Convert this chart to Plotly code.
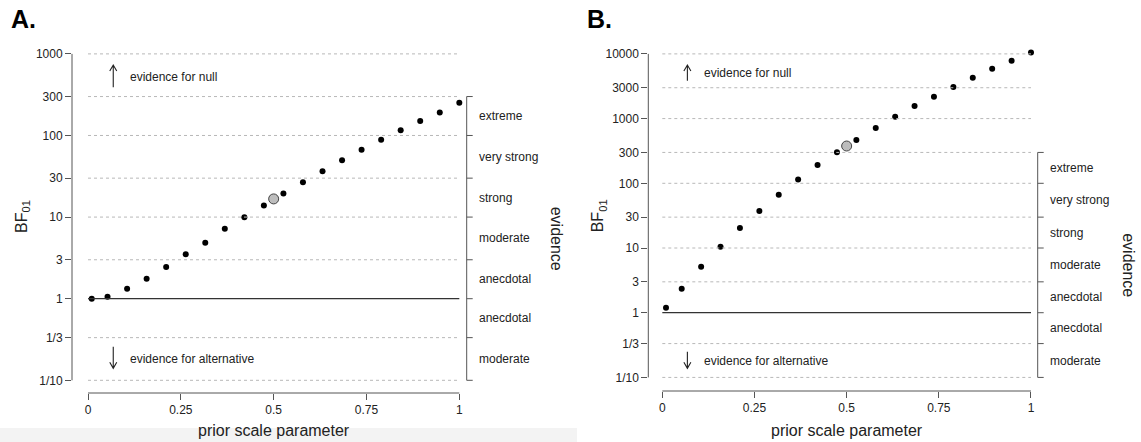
import math
import plotly.graph_objects as go

# ---------------- data ----------------
prior_scale = [0.01, 0.0526, 0.1053, 0.1579, 0.2105, 0.2632, 0.3158, 0.3684, 0.4211, 0.4737,
               0.5263, 0.5789, 0.6316, 0.6842, 0.7368, 0.7895, 0.8421, 0.8947, 0.9474, 1.0]
bf_a = [1.0, 1.06, 1.32, 1.76, 2.45, 3.5, 4.86, 7.2, 9.95, 13.9,
        19.4, 26.7, 36.5, 49.8, 66.7, 88.5, 116, 151, 191, 252]
bf_b = [1.19, 2.35, 5.14, 10.5, 20.4, 37.3, 66.7, 114, 192, 301,
        467, 716, 1071, 1567, 2180, 3076, 4286, 5900, 7850, 10470]
selected_x = 0.5
selected_bf_a = 16.7
selected_bf_b = 377

ticks_a = [1000, 300, 100, 30, 10, 3, 1, 1/3, 1/10]
ticklabels_a = ["1000", "300", "100", "30", "10", "3", "1", "1/3", "1/10"]
ticks_b = [10000, 3000, 1000, 300, 100, 30, 10, 3, 1, 1/3, 1/10]
ticklabels_b = ["10000", "3000", "1000", "300", "100", "30", "10", "3", "1", "1/3", "1/10"]
x_ticks = [0, 0.25, 0.5, 0.75, 1]
x_ticklabels = ["0", "0.25", "0.5", "0.75", "1"]

evidence_bounds = [300, 100, 30, 10, 3, 1, 1/3, 1/10]
evidence_labels = ["extreme", "very strong", "strong", "moderate", "anecdotal", "anecdotal", "moderate"]

# ---------------- layout constants ----------------
W, H = 1141, 442
FONT = "Liberation Sans, Arial, Helvetica, sans-serif"
AXC = "#555555"
TXT = "#222222"
GRID = "#b8b8b8"

panels = {
    "A": dict(xdom=[72 / W, 466.7 / W], ydom=[1 - 393 / H, 1 - 48 / H],
              xr=[-0.0431, 1.0199], yr=[-1.1556, 3.072],
              xa="x", ya="y", bf=bf_a, sel=selected_bf_a,
              ticks=ticks_a, labels=ticklabels_a,
              null_arrow=(2.864, 2.591), null_text=2.72,
              alt_arrow=(-0.853, -0.588), alt_text=-0.743, title="A."),
    "B": dict(xdom=[648.3 / W, 1037.7 / W], ydom=[1 - 391 / H, 1 - 48 / H],
              xr=[-0.038, 1.0182], yr=[-1.210, 4.091],
              xa="x2", ya="y2", bf=bf_b, sel=selected_bf_b,
              ticks=ticks_b, labels=ticklabels_b,
              null_arrow=(3.828, 3.586), null_text=3.709,
              alt_arrow=(-0.859, -0.603), alt_text=-0.742, title="B."),
}


def to_px(p, x):
    return p["xdom"][0] + (x - p["xr"][0]) / (p["xr"][1] - p["xr"][0]) * (p["xdom"][1] - p["xdom"][0])


def to_py_log(p, lv):
    return p["ydom"][0] + (lv - p["yr"][0]) / (p["yr"][1] - p["yr"][0]) * (p["ydom"][1] - p["ydom"][0])


def to_py(p, v):
    return to_py_log(p, math.log10(v))


fig = go.Figure()
shapes = []
annotations = []

# faint grey band at bottom-left (screenshot artefact)
shapes.append(dict(type="rect", xref="paper", yref="paper", x0=0, x1=577 / W, y0=0, y1=14 / H,
                   fillcolor="#f3f3f3", line=dict(width=0), layer="below"))

for key, p in panels.items():
    xa, ya = p["xa"], p["ya"]
    # gridlines
    for t in p["ticks"]:
        if abs(t - 1) < 1e-9:
            shapes.append(dict(type="line", xref=xa, yref=ya, x0=0, x1=1, y0=t, y1=t,
                               line=dict(color="#333333", width=1.3)))
        else:
            shapes.append(dict(type="line", xref=xa, yref=ya, x0=0, x1=1, y0=t, y1=t,
                               line=dict(color=GRID, width=1, dash="3px,3px")))
    # axis lines (R style)
    shapes.append(dict(type="line", xref="paper", yref="paper",
                       x0=p["xdom"][0], x1=p["xdom"][0],
                       y0=to_py(p, p["ticks"][-1]), y1=to_py(p, p["ticks"][0]),
                       line=dict(color=AXC, width=1)))
    shapes.append(dict(type="line", xref="paper", yref="paper",
                       x0=to_px(p, 0), x1=to_px(p, 1),
                       y0=p["ydom"][0], y1=p["ydom"][0],
                       line=dict(color=AXC, width=1)))
    # right-hand evidence bracket
    xr_edge = p["xdom"][1]
    shapes.append(dict(type="line", xref="paper", yref="paper",
                       x0=xr_edge, x1=xr_edge,
                       y0=to_py(p, evidence_bounds[-1]), y1=to_py(p, evidence_bounds[0]),
                       line=dict(color=AXC, width=1)))
    for b in evidence_bounds:
        shapes.append(dict(type="line", xref="paper", yref="paper",
                           x0=xr_edge, x1=xr_edge + 6 / W, y0=to_py(p, b), y1=to_py(p, b),
                           line=dict(color=AXC, width=1)))

    # arrows (drawn as paths in paper coordinates)
    ax_p = to_px(p, 0.068)
    for (head, tail) in (p["null_arrow"], p["alt_arrow"]):
        yh, yt = to_py_log(p, head), to_py_log(p, tail)
        d = 1 if yh > yt else -1
        hx, hy = 3.5 / W, 6 / H
        path = (f"M {ax_p},{yt} L {ax_p},{yh} "
                f"M {ax_p - hx},{yh - d * hy} L {ax_p},{yh} L {ax_p + hx},{yh - d * hy}")
        shapes.append(dict(type="path", xref="paper", yref="paper", path=path,
                           line=dict(color="#222222", width=1.1)))

    # points
    fig.add_trace(go.Scatter(x=prior_scale, y=p["bf"], mode="markers", xaxis=xa, yaxis=ya,
                             marker=dict(color="black", size=6), showlegend=False, cliponaxis=False))
    fig.add_trace(go.Scatter(x=[selected_x], y=[p["sel"]], mode="markers", xaxis=xa, yaxis=ya,
                             marker=dict(color="#bdbdbd", size=10, line=dict(color="#444444", width=1)),
                             showlegend=False, cliponaxis=False))

    # evidence category labels
    for i, lab in enumerate(evidence_labels):
        mid = (math.log10(evidence_bounds[i]) + math.log10(evidence_bounds[i + 1])) / 2
        annotations.append(dict(text=lab, xref="paper", yref=ya, x=xr_edge + 10 / W, y=mid,
                                xanchor="left", yanchor="middle", showarrow=False,
                                font=dict(size=12, color=TXT, family=FONT)))
    mid_all = (math.log10(evidence_bounds[0]) + math.log10(evidence_bounds[-1])) / 2
    annotations.append(dict(text="evidence", xref="paper", yref=ya, x=xr_edge + 90 / W, y=mid_all,
                            xanchor="center", yanchor="middle", showarrow=False, textangle=90,
                            font=dict(size=16, color=TXT, family=FONT)))

    annotations.append(dict(text="evidence for null", xref=xa, yref=ya, x=0.108, y=p["null_text"],
                            xanchor="left", yanchor="middle", showarrow=False,
                            font=dict(size=12, color=TXT, family=FONT)))
    annotations.append(dict(text="evidence for alternative", xref=xa, yref=ya, x=0.108, y=p["alt_text"],
                            xanchor="left", yanchor="middle", showarrow=False,
                            font=dict(size=12, color=TXT, family=FONT)))

    # axis titles
    annotations.append(dict(text="prior scale parameter", xref=xa, yref="paper", x=0.5, y=1 - 430 / H,
                            xanchor="center", yanchor="middle", showarrow=False,
                            font=dict(size=16, color=TXT, family=FONT)))
    annotations.append(dict(text="BF<sub>01</sub>", xref="paper", yref="paper",
                            x=p["xdom"][0] - 50 / W, y=1 - 216 / H,
                            xanchor="center", yanchor="middle", showarrow=False, textangle=-90,
                            font=dict(size=16, color=TXT, family=FONT)))
    # panel title
    annotations.append(dict(text="<b>" + p["title"] + "</b>", xref="paper", yref="paper",
                            x=p["xdom"][0] - 63 / W, y=1 - 19 / H,
                            xanchor="left", yanchor="middle", showarrow=False,
                            font=dict(size=25, color="#000", family=FONT)))

axis_common = dict(showgrid=False, zeroline=False, showline=False, ticks="outside", ticklen=6,
                   tickcolor=AXC, tickwidth=1, tickfont=dict(size=12, color=TXT, family=FONT))

layout = dict(
    width=W, height=H, margin=dict(l=0, r=0, t=0, b=0),
    paper_bgcolor="white", plot_bgcolor="rgba(0,0,0,0)",
    showlegend=False, shapes=shapes, annotations=annotations,
)

for key, p in panels.items():
    xname = "xaxis" if p["xa"] == "x" else "xaxis" + p["xa"][1:]
    yname = "yaxis" if p["ya"] == "y" else "yaxis" + p["ya"][1:]
    layout[xname] = dict(axis_common, domain=p["xdom"], range=p["xr"], anchor=p["ya"],
                         tickvals=x_ticks, ticktext=x_ticklabels, fixedrange=True)
    layout[yname] = dict(axis_common, domain=p["ydom"], range=p["yr"], anchor=p["xa"], type="log",
                         tickvals=p["ticks"], ticktext=p["labels"], fixedrange=True)

fig.update_layout(**layout)
fig.write_html("out.html", config={"displayModeBar": False},
               post_script="document.body.style.margin='0';document.body.style.overflow='hidden';")
